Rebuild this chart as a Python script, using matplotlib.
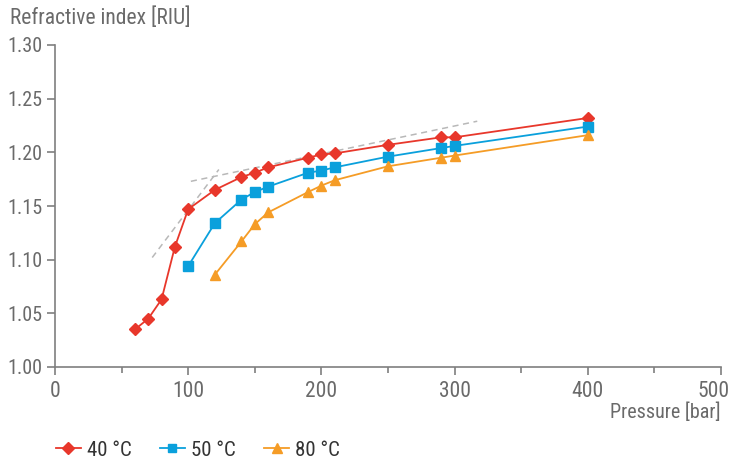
import matplotlib.pyplot as plt
from matplotlib import font_manager
import matplotlib.transforms as mtransforms

# data
p40 = [60, 70, 80, 90, 100, 120, 140, 150, 160, 190, 200, 210, 250, 290, 300, 400]
n40 = [1.035, 1.045, 1.063, 1.112, 1.147, 1.165, 1.177, 1.181, 1.186, 1.195, 1.198, 1.199, 1.207, 1.214, 1.214, 1.232]
p50 = [100, 120, 140, 150, 160, 190, 200, 210, 250, 290, 300, 400]
n50 = [1.094, 1.134, 1.156, 1.163, 1.168, 1.181, 1.183, 1.186, 1.196, 1.204, 1.206, 1.224]
p80 = [120, 140, 150, 160, 190, 200, 210, 250, 290, 300, 400]
n80 = [1.086, 1.117, 1.133, 1.144, 1.163, 1.169, 1.174, 1.187, 1.195, 1.197, 1.216]
# dashed guide lines (tangents)
guide1_x = [73, 123]
guide1_y = [1.102, 1.184]
guide2_x = [102, 317]
guide2_y = [1.173, 1.229]
series_labels = ["40 °C", "50 °C", "80 °C"]

names = {f.name for f in font_manager.fontManager.ttflist}
fam = [n for n in ["Roboto Condensed", "Liberation Sans Narrow", "DejaVu Sans"] if n in names]
plt.rcParams["font.family"] = fam
plt.rcParams["font.stretch"] = "condensed"

gray = "#7f7f7f"
red = "#e8372b"
blue = "#0aa0dc"
orange = "#f59c26"

fig = plt.figure(figsize=(7.32, 4.59), dpi=100)
ax = fig.add_axes([55 / 732, 92 / 459, 666 / 732, 322 / 459])

ax.plot(guide1_x, guide1_y, color="#b8b8b8", ls=(0, (4, 3)), lw=1.1)
ax.plot(guide2_x, guide2_y, color="#b8b8b8", ls=(0, (4, 3)), lw=1.1)
ax.plot(p40, n40, color=red, marker="D", ms=6.5, lw=1.3, label=series_labels[0])
ax.plot(p50, n50, color=blue, marker="s", ms=6.5, lw=1.3, label=series_labels[1])
ax.plot(p80, n80, color=orange, marker="^", ms=7.5, lw=1.3, label=series_labels[2])

ax.set_xlim(0, 500)
ax.set_ylim(1.0, 1.3)
ax.set_xticks([0, 100, 200, 300, 400, 500])
ax.set_xticks([50, 150, 250, 350, 450], minor=True)
ax.set_yticks([1.0, 1.05, 1.1, 1.15, 1.2, 1.25, 1.3])
ax.set_yticklabels(["1.00", "1.05", "1.10", "1.15", "1.20", "1.25", "1.30"])
for s in ["top", "right"]:
    ax.spines[s].set_visible(False)
for s in ["left", "bottom"]:
    ax.spines[s].set_color(gray)
    ax.spines[s].set_linewidth(1.2)
ax.tick_params(axis="both", which="major", colors=gray, labelcolor="#6a6a6a",
               labelsize=15.5, length=6, width=1.2, pad=4)
ax.tick_params(axis="y", which="major", labelsize=14.5, pad=3)
ax.tick_params(axis="x", which="minor", colors=gray, length=4, width=1.2)
ax.spines["left"].set_bounds(1.0, 1.3)
ax.margins(0)

# keep the last x tick label inside the figure
last = ax.get_xticklabels()[-1]
last.set_transform(last.get_transform() + mtransforms.ScaledTranslation(-7 / 100, 0, fig.dpi_scale_trans))

fig.text(10 / 732, 1 - 18 / 459, "Refractive index [RIU]", color="#6a6a6a",
         fontsize=15.5, va="center", ha="left")
fig.text(721 / 732, 1 - 412 / 459, "Pressure [bar]", color="#6a6a6a",
         fontsize=14.5, va="center", ha="right")

leg = fig.legend(loc="center left", bbox_to_anchor=(37 / 732, 1 - 450 / 459),
                 ncol=3, frameon=False, fontsize=15, handlelength=1.2,
                 columnspacing=1.35, handletextpad=0.3, markerscale=0.9)
for t in leg.get_texts():
    t.set_color("#333333")

fig.savefig("out.png", dpi=100)
